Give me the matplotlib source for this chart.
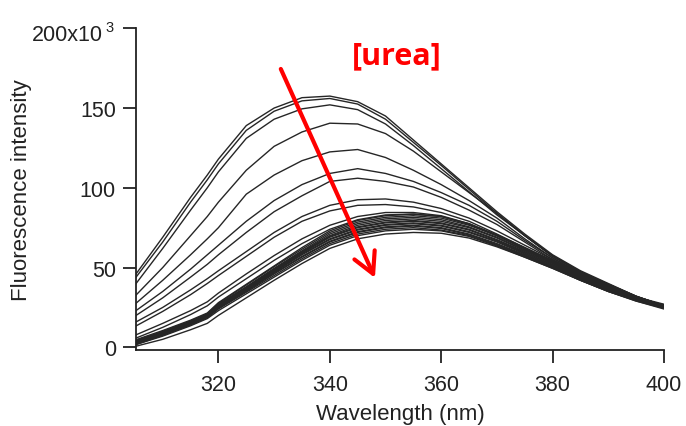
import matplotlib
matplotlib.use("Agg")
import matplotlib.pyplot as plt

plt.rcParams['font.family'] = ['Liberation Sans', 'DejaVu Sans']

# Wavelength sampling (nm)
wavelength = [305, 310, 315, 318, 320, 325, 330, 335, 340, 345, 350,
              355, 360, 365, 370, 375, 380, 385, 390, 395, 400]

# Fluorescence intensity (x10^3), one spectrum per urea concentration
c01 = [45, 69, 94, 108, 118, 139, 150, 156.5, 157.5, 154, 145, 130, 115, 100, 85, 71, 58, 48, 40, 32, 26]
c02 = [43, 66, 91, 105, 115, 136, 148, 154.5, 156, 152.5, 143, 128.5, 114, 99, 84, 70, 57.5, 47.5, 39.5, 32, 26]
c03 = [39, 62, 86, 100, 110, 131, 143, 149.5, 152, 149, 140, 126.5, 112, 97.5, 83, 70, 57, 47, 39.5, 32, 26]
c04 = [32, 50, 70, 82, 91, 111, 126, 135, 140.5, 140, 134, 123, 110, 97, 84, 70, 57, 47, 39.5, 32, 26]
c05 = [27, 42, 58, 68, 75, 96, 108, 117, 122.5, 124, 119, 111, 102, 92, 81, 68, 56, 46.5, 39, 31.5, 26]
c06 = [22.5, 35, 49, 58, 64, 79, 92, 102, 109, 112, 109, 104, 97, 89, 79, 67, 56, 46, 39, 31.5, 26]
c07 = [19.5, 31, 44, 52, 58, 72, 85, 95, 104, 106, 104, 100.5, 94, 86, 77, 66, 55, 46, 38.5, 31.5, 26]
c08 = [15.5, 25, 36, 43, 48, 60, 72, 82, 89, 92.5, 93, 91, 87, 81, 73, 64, 55, 46, 38.5, 31.5, 26]
c09 = [13, 22.5, 33, 40, 45, 57, 69, 79, 85.5, 89, 89.5, 88, 84.5, 79, 71, 62.5, 54, 45.5, 38, 31, 26]
c10 = [7.5, 15, 23, 28.5, 34, 46, 57.5, 68, 76.5, 82, 84.5, 84.5, 82.5, 77.5, 70, 62, 53.5, 45, 37.5, 31, 26]
c11 = [5.5, 12.5, 20.5, 26, 31.5, 43, 54.5, 65, 74, 80, 83, 83.5, 82, 77, 70, 61.5, 53, 44.5, 37.5, 31, 26]
b01 = [4.5, 10.5, 17, 21.5, 28, 39.5, 51, 62.5, 73, 79.5, 82.5, 83.5, 82, 77.5, 70.5, 62.5, 54.5, 45.5, 38, 31.5, 27]
b02 = [4, 10, 16.5, 21, 27.5, 39, 50.5, 61.5, 72, 78.5, 81.5, 82.5, 81, 76.5, 70, 62, 54, 45, 37.5, 31, 26.5]
b03 = [3.5, 9.5, 16, 20.5, 27, 38, 49.5, 60.5, 71, 77.5, 80.5, 81.5, 80, 75.5, 69, 61, 53.5, 44.5, 37, 31, 26.5]
b04 = [3.5, 9.5, 16, 20.5, 26.5, 37.5, 49, 60, 70, 76.5, 79.5, 80.5, 79, 75, 68.5, 60.5, 53, 44, 37, 31, 26]
b05 = [3, 9, 15.5, 20, 26, 37, 48.5, 59.5, 69.5, 75.5, 78.5, 79.5, 78, 74, 67.5, 60, 52.5, 44, 36.5, 30.5, 26]
b06 = [3, 9, 15.5, 20, 26, 37, 48, 59, 69, 75, 78, 79, 77.5, 73.5, 67, 59.5, 52, 43.5, 36.5, 30.5, 26]
b07 = [2.5, 8.5, 15, 19.5, 25.5, 36.5, 47.5, 58.5, 68, 74, 77, 78, 76.5, 72.5, 66.5, 59, 51.5, 43.5, 36, 30, 25.5]
b08 = [2.5, 8.5, 15, 19.5, 25, 36, 47, 58, 67.5, 73.5, 76.5, 77.5, 76, 72, 66, 58.5, 51, 43, 36, 30, 25.5]
b09 = [2, 8, 14.5, 19, 24.5, 35.5, 46.5, 57, 66.5, 72.5, 75.5, 76.5, 75, 71, 65, 58, 50.5, 42.5, 35.5, 30, 25.5]
b10 = [2, 8, 14.5, 19, 24.5, 35, 46, 56.5, 66, 72, 75, 76, 74.5, 70.5, 64.5, 57.5, 50.5, 42.5, 35.5, 29.5, 25]
b11 = [1.5, 7.5, 14, 18.5, 24, 34.5, 45, 55.5, 65, 71, 74, 75, 73.5, 70, 64, 57, 50, 42, 35, 29.5, 25]
b12 = [1.5, 7, 13.5, 18, 23, 33.5, 44, 54.5, 64, 70, 73, 74, 73, 69.5, 63.5, 56.5, 49.5, 42, 35, 29, 24.5]
b13 = [0.5, 5, 11, 15, 20, 31, 42, 52.5, 62, 68, 71, 72, 71.5, 68.5, 63, 56.5, 49.5, 42, 35, 29, 24]

spectra = [c01, c02, c03, c04, c05, c06, c07, c08, c09, c10, c11,
           b01, b02, b03, b04, b05, b06, b07, b08, b09, b10, b11, b12, b13]

x_ticks = [320, 340, 360, 380, 400]
y_ticks = [0, 50, 100, 150, 200]
y_tick_labels = ['0', '50', '100', '150', '']
top_label = '200x10'
top_label_exp = '3'

fig = plt.figure(figsize=(6.86, 4.27), dpi=100)
ax = fig.add_axes([136/686, (427-351)/427, 528/686, (351-29.3)/427])

for s in spectra:
    ax.plot(wavelength, s, color='#262626', lw=1.0, solid_joinstyle='round')

ax.set_xlim(305.2, 400)
ax.set_ylim(-1.7, 200)
ax.set_xticks(x_ticks)
ax.set_yticks(y_ticks)
ax.set_yticklabels(y_tick_labels)

for side in ['top', 'right']:
    ax.spines[side].set_visible(False)
for side in ['left', 'bottom']:
    ax.spines[side].set_linewidth(1.3)
    ax.spines[side].set_color('#222222')
ax.tick_params(axis='both', direction='out', length=9.5, width=1.3,
               colors='#222222', labelsize=15.5, pad=5, labelcolor='#222222')
ax.tick_params(axis='x', pad=8)

# top y tick label with superscript exponent
ax.annotate(top_label, xy=(0, 200), xycoords=('axes fraction', 'data'),
            xytext=(-33, -12), textcoords='offset pixels',
            ha='right', va='baseline', fontsize=15.5, color='#222222')
ax.annotate(top_label_exp, xy=(0, 200), xycoords=('axes fraction', 'data'),
            xytext=(-31, -3), textcoords='offset pixels',
            ha='left', va='baseline', fontsize=10.5, color='#222222')

ax.set_xlabel('Wavelength (nm)', fontsize=16, color='#222222')
ax.set_ylabel('Fluorescence intensity', fontsize=16, color='#222222')
ax.xaxis.set_label_coords(0.5, -0.166)
ax.yaxis.set_label_coords(-0.197, 0.5)

ax.annotate('', xy=(348.1, 43.5), xytext=(331.2, 174.5),
            arrowprops=dict(arrowstyle='->,head_length=0.75,head_width=0.4',
                            color='red', lw=3, mutation_scale=20,
                            shrinkA=0, shrinkB=0))
ax.text(352.0, 183, '[urea]', color='red', fontsize=22, fontweight='bold',
        family=['Open Sans', 'DejaVu Sans'], ha='center', va='center')

fig.savefig('out.png', dpi=100)
